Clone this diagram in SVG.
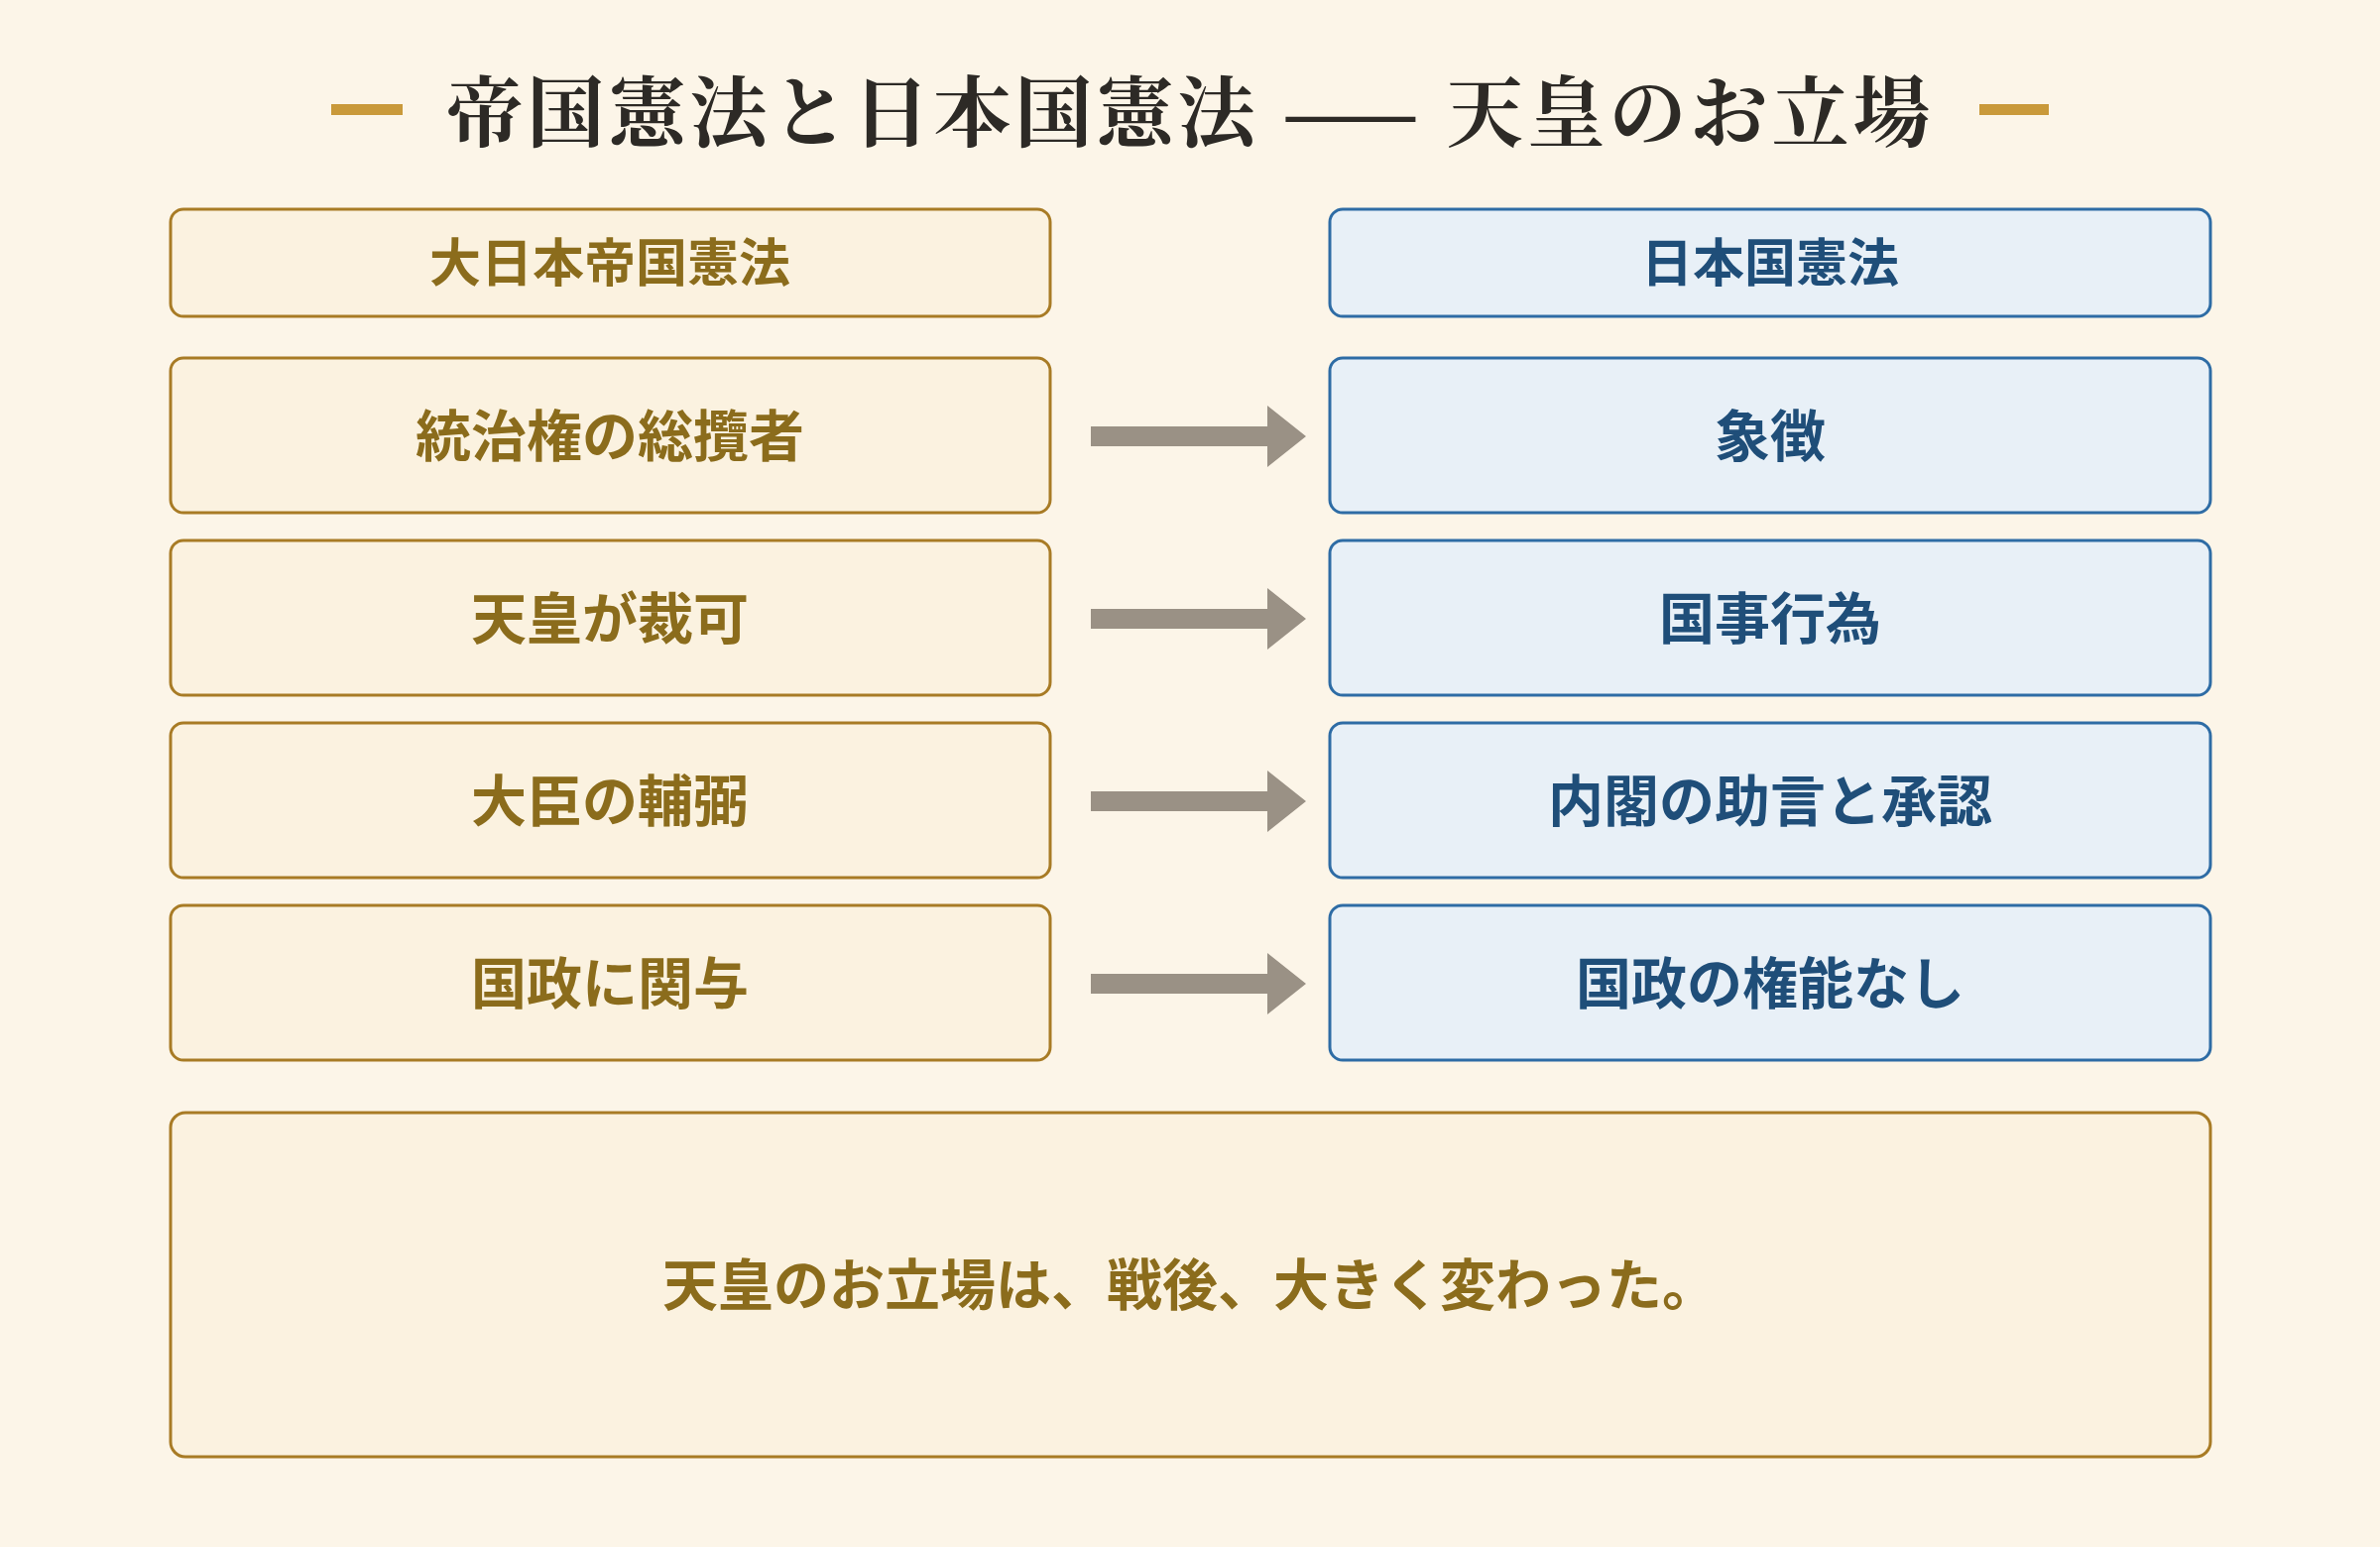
<svg xmlns="http://www.w3.org/2000/svg" width="2400" height="1560" viewBox="0 0 2400 1560">
<defs>
<style>
.bg{fill:#FCF5E8}
.lbox{fill:#FBF2E0;stroke:#A87B25;stroke-width:3}
.rbox{fill:#E8F0F7;stroke:#2E6CA5;stroke-width:3}
.lt{font-family:"Noto Sans CJK JP","Noto Sans",sans-serif;font-weight:700;fill:#8B6C1C;text-anchor:middle;dominant-baseline:central}
.rt{font-family:"Noto Sans CJK JP","Noto Sans",sans-serif;font-weight:700;fill:#1F4E79;text-anchor:middle;dominant-baseline:central}
.title{font-family:"Noto Serif CJK JP","Noto Serif JP","Noto Sans CJK JP",serif;font-weight:700;fill:#2D2A26;text-anchor:middle;dominant-baseline:central;font-size:78px;letter-spacing:4px}
.bar{fill:#C9993A}
.arrow{fill:#9A9185}
</style>
</defs>
<rect class="bg" x="0" y="0" width="2400" height="1560"/>
<g id="title">
<rect class="bar" x="334" y="105" width="72" height="11"/>
<rect class="bar" x="1996" y="105" width="70" height="11"/>
<text class="title" x="1200" y="108">帝国憲法と日本国憲法 —— 天皇のお立場</text>
</g>
<g id="header-left"><rect class="lbox" x="172" y="211" width="887" height="108" rx="13"/><text class="lt" x="615" y="261" font-size="52">大日本帝国憲法</text></g>
<g id="header-right"><rect class="rbox" x="1341" y="211" width="888" height="108" rx="13"/><text class="rt" x="1785" y="261" font-size="52">日本国憲法</text></g>
<g id="left-1"><rect class="lbox" x="172" y="361" width="887" height="156" rx="13"/><text class="lt" x="615" y="435" font-size="56">統治権の総攬者</text></g>
<g id="left-2"><rect class="lbox" x="172" y="545" width="887" height="156" rx="13"/><text class="lt" x="615" y="619" font-size="56">天皇が裁可</text></g>
<g id="left-3"><rect class="lbox" x="172" y="729" width="887" height="156" rx="13"/><text class="lt" x="615" y="803" font-size="56">大臣の輔弼</text></g>
<g id="left-4"><rect class="lbox" x="172" y="913" width="887" height="156" rx="13"/><text class="lt" x="615" y="987" font-size="56">国政に関与</text></g>
<g id="right-1"><rect class="rbox" x="1341" y="361" width="888" height="156" rx="13"/><text class="rt" x="1785" y="435" font-size="56">象徴</text></g>
<g id="right-2"><rect class="rbox" x="1341" y="545" width="888" height="156" rx="13"/><text class="rt" x="1785" y="619" font-size="56">国事行為</text></g>
<g id="right-3"><rect class="rbox" x="1341" y="729" width="888" height="156" rx="13"/><text class="rt" x="1785" y="803" font-size="56">内閣の助言と承認</text></g>
<g id="right-4"><rect class="rbox" x="1341" y="913" width="888" height="156" rx="13"/><text class="rt" x="1785" y="987" font-size="56">国政の権能なし</text></g>
<g id="connectors">
<path class="arrow" d="M1100 430 H1278 V409 L1317 440 L1278 471 V450 H1100 Z"/>
<path class="arrow" d="M1100 614 H1278 V593 L1317 624 L1278 655 V634 H1100 Z"/>
<path class="arrow" d="M1100 798 H1278 V777 L1317 808 L1278 839 V818 H1100 Z"/>
<path class="arrow" d="M1100 982 H1278 V961 L1317 992 L1278 1023 V1002 H1100 Z"/>
</g>
<g id="summary"><rect class="lbox" x="172" y="1122" width="2057" height="347" rx="15"/><text class="lt" x="1200" y="1291" font-size="56">天皇のお立場は、戦後、大きく変わった。</text></g>
</svg>
